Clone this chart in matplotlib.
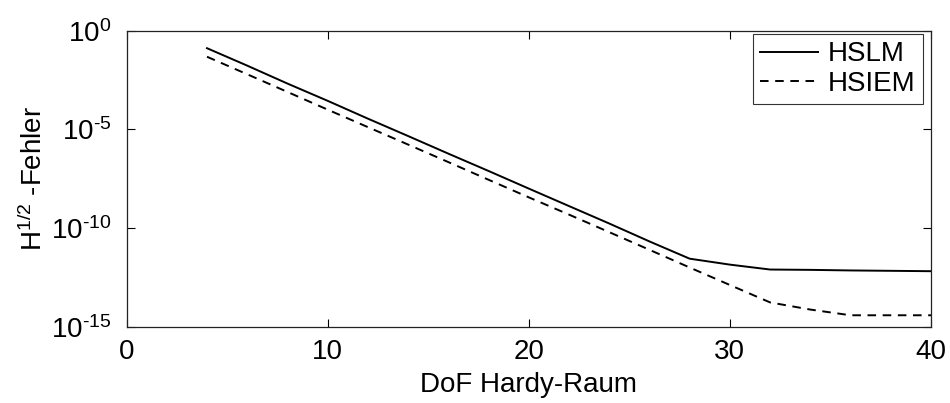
import numpy as np
import matplotlib
matplotlib.use("Agg")
import matplotlib.pyplot as plt
from matplotlib.ticker import FixedLocator, NullLocator, FuncFormatter


# ============================================================
# DATA
# ============================================================

dof = [4, 6, 8, 10, 12, 14, 16, 18, 20, 22, 24, 26, 28, 30, 32, 34, 36, 38, 40]

err_hslm = [1.3e-1, 1.7e-2, 2.1e-3, 2.8e-4, 3.5e-5, 4.6e-6, 5.9e-7, 7.8e-8,
            1.0e-8, 1.3e-9, 1.7e-10, 2.1e-11, 2.8e-12, 1.4e-12, 7.9e-13,
            7.6e-13, 7.1e-13, 6.8e-13, 6.5e-13]

err_hsiem = [4.8e-2, 6.2e-3, 7.9e-4, 1.0e-4, 1.3e-5, 1.7e-6, 2.2e-7, 2.8e-8,
             3.6e-9, 4.8e-10, 6.2e-11, 7.9e-12, 1.0e-12, 1.3e-13, 1.7e-14,
             7.4e-15, 3.8e-15, 3.8e-15, 3.8e-15]

x_ticks = [0, 10, 20, 30, 40]
y_ticks = [1e-15, 1e-10, 1e-5, 1e0]


# ============================================================
# STYLE
# ============================================================

plt.rcParams["font.family"] = ["Liberation Sans", "DejaVu Sans"]
plt.rcParams["mathtext.fontset"] = "custom"
plt.rcParams["mathtext.rm"] = "Liberation Sans"
plt.rcParams["mathtext.it"] = "Liberation Sans:italic"
plt.rcParams["mathtext.bf"] = "Liberation Sans:bold"

FS = 20


def pow10_label(y, pos):
    # MATLAB-style: plain hyphen in the exponent
    e = int(round(np.log10(y)))
    return r"$\mathdefault{10^{\text{%d}}}$" % e


fig = plt.figure(figsize=(9.5, 4.03), dpi=100)
ax = fig.add_axes([0.1332, 0.1893, 0.98 - 0.1332, 0.9238 - 0.1893])

ax.semilogy(dof, err_hslm, color="black", lw=1.4, label="HSLM")
ax.semilogy(dof, err_hsiem, color="black", lw=1.4, dashes=(4.4, 3.4),
            label="HSIEM")

ax.set_xlim(0, 40)
ax.set_ylim(1e-15, 1e0)
ax.xaxis.set_major_locator(FixedLocator(x_ticks))
ax.yaxis.set_major_locator(FixedLocator(y_ticks))
ax.yaxis.set_minor_locator(NullLocator())
ax.yaxis.set_major_formatter(FuncFormatter(pow10_label))

ax.tick_params(which="both", direction="in", top=True, right=True,
               length=6, width=0.8, labelsize=FS)
ax.tick_params(axis="x", pad=9)
ax.tick_params(axis="y", pad=11)
for sp in ax.spines.values():
    sp.set_linewidth(0.9)
    sp.set_color("#222222")

ax.set_xlabel("DoF Hardy-Raum", fontsize=FS, labelpad=5)
ax.set_ylabel(r"H$^{1/2}$ -Fehler", fontsize=FS, labelpad=2)

leg = ax.legend(loc="upper right", bbox_to_anchor=(922.7 / 950, 1 - 34.3 / 403),
                bbox_transform=fig.transFigure, borderaxespad=0,
                fontsize=FS, fancybox=False, frameon=True,
                handlelength=2.1, handletextpad=0.35, labelspacing=0.12,
                borderpad=0.25)
leg.get_frame().set_edgecolor("black")
leg.get_frame().set_linewidth(0.8)

fig.savefig("out.png", dpi=100, facecolor="white")
